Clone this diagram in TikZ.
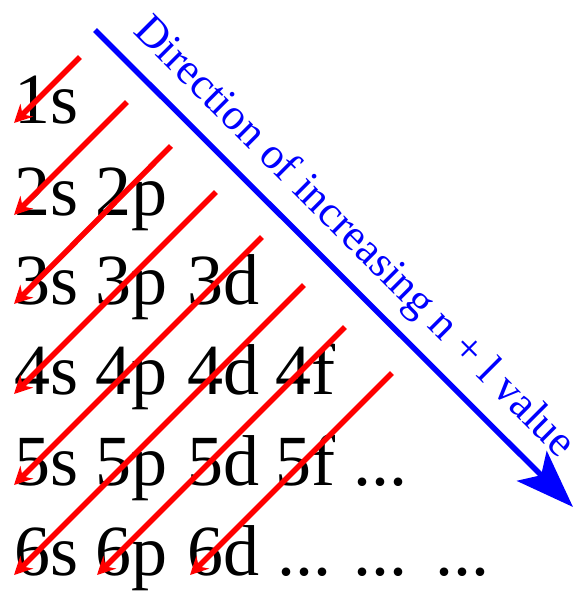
\documentclass[tikz,border=0pt]{standalone}
\usepackage{fontspec}
\setmainfont{Liberation Serif}
\usetikzlibrary{arrows.meta}
\begin{document}
\begin{tikzpicture}[x=1pt,y=-1pt,
  orb/.style={font=\fontsize{72}{72}\selectfont, anchor=base west, inner sep=0pt, text=black},
  redarrow/.style={draw=red, line width=5.5pt, -{Stealth[length=18pt,width=18pt,inset=6pt]}},
  bluearrow/.style={draw=blue, line width=5.5pt, -{Stealth[length=58pt,width=42pt,inset=13pt]}},
  dirlabel/.style={font=\fontsize{44}{44}\selectfont, text=blue, anchor=base west, inner sep=0pt, rotate=-45}]
\useasboundingbox (0,0) rectangle (574,592);
% orbital labels
\node[orb] (s1) at (14,123) {1s};
\node[orb] (s2) at (14,215) {2s};
\node[orb] (p2) at (95,215) {2p};
\node[orb] (s3) at (14,304) {3s};
\node[orb] (p3) at (95,304) {3p};
\node[orb] (d3) at (187,304) {3d};
\node[orb] (s4) at (14,394) {4s};
\node[orb] (p4) at (95,394) {4p};
\node[orb] (d4) at (187,394) {4d};
\node[orb] (f4) at (275,394) {4f};
\node[orb] (s5) at (14,485) {5s};
\node[orb] (p5) at (95,485) {5p};
\node[orb] (d5) at (187,485) {5d};
\node[orb] (f5) at (275,485) {5f};
\node[orb] (g5) at (353,485) {...};
\node[orb] (s6) at (14,575) {6s};
\node[orb] (p6) at (95,575) {6p};
\node[orb] (d6) at (187,575) {6d};
\node[orb] (f6) at (277,575) {...};
\node[orb] (g6) at (353,575) {...};
\node[orb] (h6) at (435,575) {...};
% red arrow starts
\coordinate (a1) at (80,57);
\coordinate (a2) at (127,102);
\coordinate (a3) at (171,146);
\coordinate (a4) at (216,192);
\coordinate (a5) at (262,237);
\coordinate (a6) at (304,285);
\coordinate (a7) at (345,327);
\coordinate (a8) at (392,373);
\draw[redarrow] (a1) -- (s1.base west);
\draw[redarrow] (a2) -- (s2.base west);
\draw[redarrow] (a3) -- (s3.base west);
\draw[redarrow] (a4) -- (s4.base west);
\draw[redarrow] (a5) -- (s5.base west);
\draw[redarrow] (a6) -- (s6.base west);
\draw[redarrow] (a7) -- ([xshift=2pt]p6.base west);
\draw[redarrow] (a8) -- ([xshift=3pt]d6.base west);
% blue direction arrow
\coordinate (bstart) at (95,30);
\coordinate (bend) at (573,507);
\draw[bluearrow] (bstart) -- (bend);
\node[dirlabel] (dir) at (132,32) {Direction of increasing n + l value};
\end{tikzpicture}
\end{document}
